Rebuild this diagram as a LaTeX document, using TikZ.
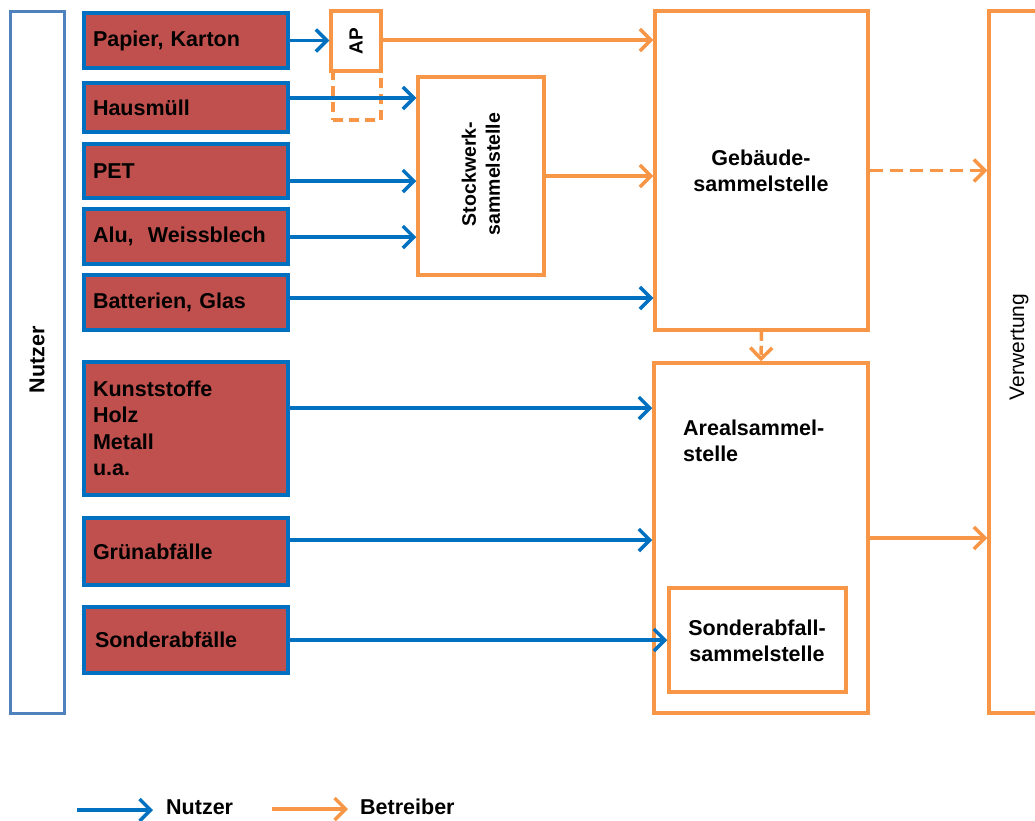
\documentclass[tikz,border=0pt]{standalone}
\usepackage{fontspec}
\setmainfont{Liberation Sans}
\usetikzlibrary{arrows.meta}
\definecolor{ublue}{HTML}{0070C0}
\definecolor{ured}{HTML}{C0504D}
\definecolor{uorange}{HTML}{F79646}
\definecolor{nblue}{HTML}{4F81BD}
\begin{document}
\begin{tikzpicture}[x=1pt,y=-1pt,
  every node/.style={font=\fontsize{21.5}{26.5}\selectfont\bfseries},
  src/.style={draw=ublue, fill=ured, line width=4pt, minimum width=204pt,
    text width=186pt, inner xsep=9pt, inner ysep=0pt, align=left},
  obox/.style={draw=uorange, line width=3.5pt, inner sep=0pt},
  ua/.style={draw=ublue, line width=3.5pt, -{Straight Barb[length=11pt,width=22pt]}},
  oa/.style={draw=uorange, line width=3.5pt, -{Straight Barb[length=11pt,width=22pt]}},
  txt/.style={inner sep=0pt, align=center}
]
\useasboundingbox (0,0) rectangle (1035,820);

% Nutzer column
\node[draw=nblue, line width=3pt, minimum width=54pt, minimum height=702pt, inner sep=0pt] (nutzer) at (37,362) {};
\node[txt, rotate=90] (nutzertxt) at (37,360) {Nutzer};

% sources
\node[src, minimum height=55pt] (pap) at (186,40.5) {Papier, Karton};
\node[src, minimum height=49pt] (haus) at (186,107.5) {Hausmüll};
\node[src, minimum height=54pt] (pet) at (186,171) {PET};
\node[src, minimum height=55pt] (alu) at (186,236.5) {Alu,\ \ Weissblech};
\node[src, minimum height=55pt] (bat) at (186,302.5) {Batterien, Glas};
\node[src, minimum height=133pt] (kun) at (186,428.5) {Kunststoffe\\Holz\\Metall\\u.a.};
\node[src, minimum height=67pt] (gru) at (186,551.5) {Grünabfälle};
\node[src, minimum height=66pt] (son) at (186,640) {\hspace*{2pt}Sonderabfälle};

% AP
\node[obox, minimum width=50pt, minimum height=60pt] (ap) at (356,41) {};
\node[txt, rotate=90, font=\fontsize{19}{22}\selectfont\bfseries] (aptxt) at (356,41) {AP};
\node[obox, dash pattern=on 10pt off 6pt, minimum width=48pt, minimum height=49pt] (apd) at (357,95.5) {};

% Stockwerk
\node[obox, minimum width=126pt, minimum height=198pt] (stock) at (481,176) {};
\node[txt, rotate=90, font=\fontsize{19.5}{24}\selectfont\bfseries] (stocktxt) at (481,174) {Stockwerk-\\sammelstelle};

% Gebaeude
\node[obox, minimum width=213pt, minimum height=319pt] (geb) at (761.5,170.5) {};
\node[txt] (gebtxt) at (761,171) {Gebäude-\\sammelstelle};

% Areal
\node[obox, minimum width=214pt, minimum height=350pt] (areal) at (761,538) {};
\node[inner sep=0pt, align=left, anchor=west] (arealtxt) at (683,441) {Arealsammel-\\stelle};

% Sonderabfall
\node[obox, minimum width=177pt, minimum height=104pt] (sonder) at (757.5,640) {};
\node[txt] (sondertxt) at (757,641) {Sonderabfall-\\sammelstelle};

% Verwertung
\node[obox, minimum width=71pt, minimum height=702pt] (verw) at (1024.5,362) {};
\node[txt, rotate=90, font=\fontsize{21}{26}\selectfont] (verwtxt) at (1019,347) {Verwertung};

% blue arrows
\draw[ua] (pap.east) -- (pap.east -| ap.west);
\path ([yshift=9.5pt]haus.east) coordinate (h1);
\draw[ua] (h1) -- (h1 -| stock.west);
\path ([yshift=-10pt]pet.east) coordinate (p1);
\draw[ua] (p1) -- (p1 -| stock.west);
\path ([yshift=-0.5pt]alu.east) coordinate (a1);
\draw[ua] (a1) -- (a1 -| stock.west);
\path ([yshift=4.5pt]bat.east) coordinate (b1);
\draw[ua] (b1) -- (b1 -| geb.west);
\path ([yshift=20.5pt]kun.east) coordinate (k1);
\draw[ua] (k1) -- (k1 -| areal.west);
\path ([yshift=11.5pt]gru.east) coordinate (g1);
\draw[ua] (g1) -- (g1 -| areal.west);
\draw[ua] (son.east) -- (son.east -| sonder.west);

% orange arrows
\path ([yshift=1pt]ap.east) coordinate (o1);
\draw[oa] (o1) -- (o1 -| geb.west);
\draw[oa] (stock.east) -- (stock.east -| geb.west);
\draw[oa, dash pattern=on 13pt off 7pt] (geb.east) -- (geb.east -| verw.west);
\draw[oa, dash pattern=on 9pt off 5pt] (geb.south) -- (areal.north);
\draw[oa] (areal.east) -- (areal.east -| verw.west);

% legend
\node[inner sep=0pt, anchor=west] (lnutzer) at (166,807) {Nutzer};
\node[inner sep=0pt, anchor=west] (lbetr) at (360,807) {Betreiber};
\coordinate (lbs) at (77,810);
\coordinate (los) at (272,809);
\draw[ua] (lbs) -- (lbs -| 153,0);
\draw[oa] (los) -- (los -| 348,0);
\end{tikzpicture}
\end{document}
